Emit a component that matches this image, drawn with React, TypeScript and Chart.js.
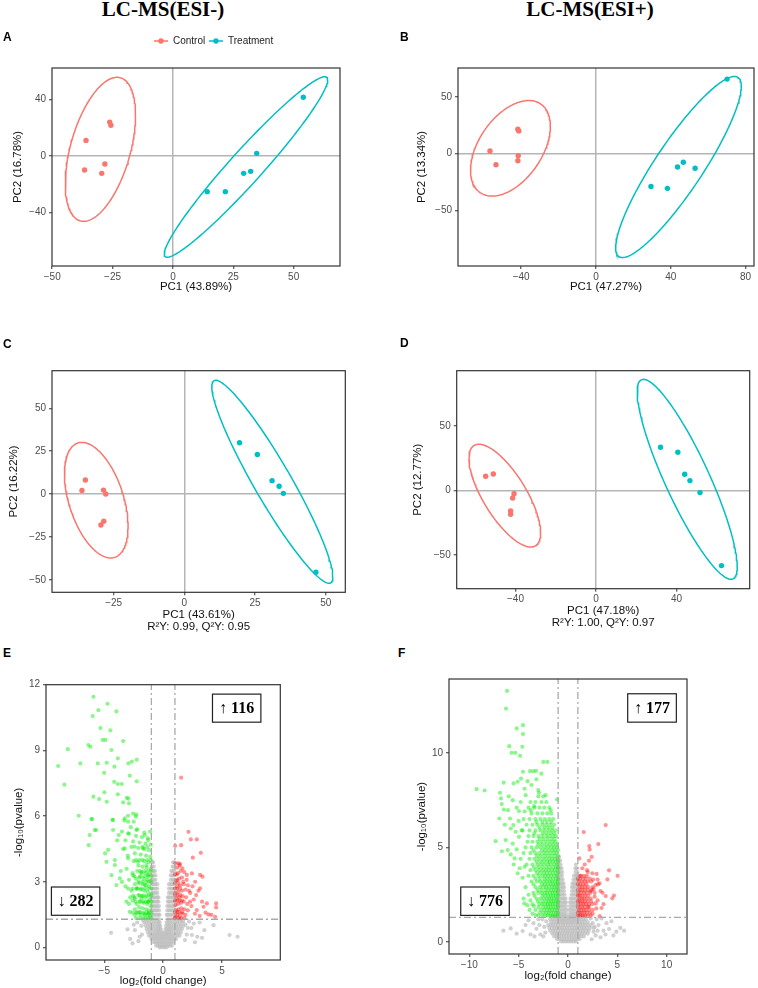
import React, { useEffect, useRef } from 'react';
import { Chart, registerables } from 'chart.js';

Chart.register(...registerables);

type Pt = [number, number];
type Row = [number, number[]]; // [y, list of x values at about that y]

// ---------- shared values ----------
const GROUPS = ['Control', 'Treatment'];
const FC_CUT = 1;
const P_CUT = 1.3;

// ---------- Panel A : PCA, LC-MS(ESI-) ----------
const A_CONTROL: Pt[] = [[-26.2, 24.1], [-25.7, 21.8], [-36.0, 11.1], [-36.6, -9.9], [-28.2, -5.7], [-29.5, -12.3]];
const A_TREAT: Pt[] = [[54.0, 41.7], [34.7, 1.9], [32.2, -10.9], [29.3, -12.3], [14.2, -25.3], [21.7, -25.3]];
// ellipse: [centre x, centre y, x half-range, y half-range, phase]
const A_ELL_CONTROL = [-30.05, 4.75, 14.55, 51.15, 1.075];
const A_ELL_TREAT = [30.25, -7.8, 33.85, 64.1, 0.27];
const A_XTICKS = [-50, -25, 0, 25, 50];
const A_YTICKS = [-40, 0, 40];

// ---------- Panel B : PCA, LC-MS(ESI+) ----------
const B_CONTROL: Pt[] = [[-56.7, 2.4], [-53.5, -9.7], [-41.8, 21.6], [-41.3, 20.1], [-41.6, -1.8], [-41.8, -6.2]];
const B_TREAT: Pt[] = [[70.1, 65.8], [29.4, -28.9], [38.2, -30.6], [43.6, -11.8], [46.7, -7.6], [53.0, -12.9]];
const B_ELL_CONTROL = [-45.75, 4.75, 21.35, 42.15, 1.093];
const B_ELL_TREAT = [44.1, -11.8, 33.6, 79.9, 0.47];
const B_XTICKS = [-40, 0, 40, 80];
const B_YTICKS = [-50, 0, 50];

// ---------- Panel C : OPLS-DA, ESI- ----------
const C_CONTROL: Pt[] = [[-35.0, 8.2], [-36.2, 2.1], [-28.6, 2.3], [-27.8, 0.0], [-28.5, -15.9], [-29.5, -18.1]];
const C_TREAT: Pt[] = [[19.5, 29.9], [25.8, 23.1], [31.0, 7.8], [33.5, 4.5], [35.0, 0.4], [46.5, -45.6]];
const C_ELL_CONTROL = [-31.15, -3.6, 11.25, 33.7, 2.04];
const C_ELL_TREAT = [31.1, 7.15, 21.4, 59.15, 2.78];
const C_XTICKS = [-25, 0, 25, 50];
const C_YTICKS = [-50, -25, 0, 25, 50];

// ---------- Panel D : OPLS-DA, ESI+ ----------
const D_CONTROL: Pt[] = [[-54.8, 10.9], [-51.0, 12.6], [-40.7, -2.6], [-41.4, -6.0], [-42.4, -16.0], [-42.4, -18.6]];
const D_TREAT: Pt[] = [[32.1, 33.3], [40.7, 29.5], [44.1, 12.4], [46.7, 7.5], [51.7, -1.8], [62.4, -58.4]];
const D_ELL_CONTROL = [-45.3, -4.15, 17.8, 39.85, 2.38];
const D_ELL_TREAT = [45.35, 8.5, 24.85, 77.5, 2.634];
const D_XTICKS = [-40, 0, 40];
const D_YTICKS = [-50, 0, 50];

// ---------- Panel E : volcano, ESI- ----------
const E_UP_COUNT = 116;
const E_DOWN_COUNT = 282;
const E_XTICKS = [-5, 0, 5];
const E_YTICKS = [0, 3, 6, 9, 12];
const E_DOWN: Pt[] = [
  [-5.92, 11.45], [-4.73, 11.13], [-5.5, 10.84], [-3.97, 10.78], [-5.98, 10.57], [-5.33, 10.02], [-4.48, 9.92],
  [-5.13, 9.48], [-4.9, 9.48], [-3.4, 9.43], [-8.1, 9.06], [-6.35, 9.25], [-6.18, 9.17], [-4.39, 9.02],
  [-3.85, 8.64], [-2.24, 8.58], [-2.95, 8.41], [-2.66, 8.49], [-7.03, 8.41], [-5.55, 8.41], [-4.79, 8.44],
  [-4.14, 8.26], [-8.92, 8.29], [-5.01, 7.98], [-2.83, 7.85], [-4.16, 7.57], [-3.85, 7.47], [-3.51, 7.47],
  [-2.24, 7.59], [-8.39, 7.44], [-5.92, 6.89], [-5.44, 6.78], [-4.79, 6.66], [-4.99, 7.09], [-3.85, 7.0],
  [-3.09, 6.84], [-2.95, 6.8], [-3.4, 6.63], [-2.9, 6.59], [-7.17, 6.02], [-6.03, 5.87], [-4.31, 5.83],
  [-2.98, 6.02], [-2.55, 6.12], [-2.27, 6.07], [-5.69, 5.37], [-6.32, 4.68], [-4.93, 4.3], [-6.09, 5.87],
  [-4.25, 5.83], [-3.26, 5.9], [-2.98, 5.75], [-2.33, 5.98], [-5.81, 5.37], [-6.24, 5.14], [-4.25, 5.37],
  [-3.77, 5.14], [-2.98, 5.22], [-2.27, 5.37], [-1.56, 5.14], [-1.28, 4.91], [-4.67, 4.46], [-3.26, 4.53],
  [-2.41, 4.61], [-1.7, 4.53], [-4.81, 3.92], [-4.1, 3.77], [-2.98, 4.08], [-2.13, 3.92], [-1.42, 3.77],
  [-4.39, 3.31], [-3.68, 3.16], [-2.55, 3.31], [-1.84, 3.39], [-1.28, 3.31], [-3.97, 2.86], [-2.98, 2.7],
  [-2.27, 2.7], [-1.56, 2.86], [-3.12, 2.1], [-2.41, 2.25], [-1.84, 2.25], [-1.28, 2.1], [-2.84, 1.64],
  [-1.99, 1.64], [-1.28, 1.56], [-1.56, 1.49],
  [-1.1, 1.45], [-1.3, 1.5], [-1.6, 1.55], [-1.9, 1.5], [-2.2, 1.6], [-1.2, 1.7], [-1.45, 1.75], [-1.75, 1.8],
  [-2.05, 1.85], [-2.4, 1.75], [-1.05, 1.9], [-1.35, 2.0], [-1.65, 2.05], [-1.95, 2.1], [-2.25, 2.0],
  [-2.6, 2.15], [-1.15, 2.2], [-1.5, 2.3], [-1.8, 2.35], [-2.1, 2.4], [-2.45, 2.3], [-1.05, 2.45], [-1.3, 2.55],
  [-1.6, 2.6], [-1.9, 2.65], [-2.25, 2.7], [-2.7, 2.6], [-1.2, 2.8], [-1.45, 2.85], [-1.75, 2.9], [-2.05, 2.95],
  [-2.4, 2.9], [-1.1, 3.05], [-1.35, 3.1], [-1.65, 3.15], [-2.0, 3.2], [-2.3, 3.15], [-2.9, 3.1], [-1.2, 3.35],
  [-1.5, 3.4], [-1.85, 3.45], [-2.2, 3.5], [-2.6, 3.4], [-1.05, 3.6], [-1.4, 3.65], [-1.75, 3.7], [-2.1, 3.75],
  [-3.1, 3.6], [-1.25, 3.9], [-1.6, 3.95], [-2.0, 4.0], [-2.5, 3.95], [-1.1, 4.15], [-1.45, 4.2], [-1.9, 4.25],
  [-2.4, 4.3], [-3.0, 4.2], [-1.2, 4.45], [-1.6, 4.5], [-2.1, 4.55], [-2.7, 4.6], [-3.4, 4.5], [-1.05, 4.7],
  [-1.5, 4.75], [-2.0, 4.8], [-2.55, 4.85], [-3.2, 4.9], [-1.3, 5.0], [-1.8, 5.05], [-2.3, 5.1], [-2.9, 5.2],
  [-1.1, 5.3], [-1.6, 5.25], [-2.2, 5.4], [-2.75, 5.5], [-3.5, 5.3], [-3.3, 5.8], [-2.5, 5.75], [-3.9, 4.9],
  [-4.1, 4.0], [-3.6, 3.5], [-3.2, 2.8], [-2.8, 2.3], [-3.5, 3.0], [-2.9, 2.0], [-2.6, 1.6], [-2.4, 1.5],
];
const E_DOWN_ROWS: Row[] = [
  [1.35, [-1.0, -1.25, -1.5, -1.75, -2.0, -2.3]],
  [1.6, [-1.0, -1.2, -1.4, -1.7, -2.0, -2.3]],
  [2.1, [-1.0, -1.25, -1.45, -1.7, -2.0, -2.35]],
  [2.38, [-1.0, -1.2, -1.4, -1.7, -2.0, -2.55]],
  [2.7, [-1.0, -1.25, -1.55, -1.85, -2.15, -2.6]],
  [3.0, [-1.0, -1.2, -1.45, -1.75, -2.1]],
  [3.25, [-1.0, -1.3, -1.6, -1.95, -2.45]],
  [3.5, [-1.05, -1.3, -1.6, -1.95]],
  [4.0, [-1.05, -1.35, -1.75, -2.3]],
  [4.6, [-1.35, -1.75]],
];
const E_UP: Pt[] = [
  [1.53, 7.76], [2.15, 5.29], [2.35, 4.94], [2.86, 4.94], [1.53, 4.68], [1.02, 4.65], [3.2, 4.33], [2.52, 4.11],
  [1.44, 3.82], [1.64, 3.62], [2.01, 3.32], [3.14, 3.32], [3.34, 3.24], [2.44, 3.39], [2.72, 3.01], [1.19, 3.09],
  [3.14, 2.71], [3.71, 2.02], [4.5, 2.02], [4.5, 1.84], [3.43, 1.87], [3.85, 1.52], [4.42, 1.41], [2.86, 1.72],
  [2.29, 2.1],
  [1.05, 1.4], [1.2, 1.5], [1.4, 1.45], [1.65, 1.55], [1.9, 1.5], [1.1, 1.7], [1.3, 1.75], [1.55, 1.8],
  [1.8, 1.75], [2.1, 1.7], [1.05, 1.95], [1.25, 2.0], [1.5, 2.05], [1.75, 2.1], [2.05, 2.0], [2.4, 1.9],
  [1.15, 2.25], [1.4, 2.3], [1.65, 2.35], [1.95, 2.3], [2.6, 2.2], [1.05, 2.5], [1.3, 2.55], [1.6, 2.6],
  [1.9, 2.65], [2.3, 2.5], [2.8, 2.4], [1.2, 2.8], [1.45, 2.85], [1.75, 2.9], [2.1, 2.85], [2.5, 2.8],
  [1.1, 3.05], [1.35, 3.15], [1.6, 3.2], [2.0, 3.1], [1.25, 3.4], [1.5, 3.5], [1.8, 3.45], [1.4, 3.75],
  [1.2, 3.65], [3.0, 2.6], [3.3, 2.1], [3.6, 1.6], [2.7, 1.55], [3.1, 1.45], [4.1, 1.5], [2.2, 2.6], [1.7, 3.0],
];
const E_UP_ROWS: Row[] = [
  [1.35, [1.0, 1.3, 1.55, 1.8]],
  [1.62, [1.0, 1.2, 1.4, 1.6]],
  [2.15, [1.0, 1.2, 1.4, 1.6]],
  [2.4, [1.0, 1.2, 1.45]],
  [2.7, [1.0, 1.2, 1.45]],
  [2.95, [1.0, 1.3]],
  [3.35, [1.0, 1.15]],
  [3.85, [1.05, 1.3]],
];
const E_NS_ROWS: Row[] = [
  [3.9, [-0.95, -0.85, 0.95, 0.85]],
  [3.7, [-0.95, -0.8, 0.95, 0.8]],
  [3.5, [-0.95, -0.8, -0.7, 0.95, 0.8, 0.7]],
  [3.3, [-0.95, -0.8, -0.65, 0.95, 0.8, 0.65]],
  [3.1, [-0.95, -0.8, -0.65, 0.95, 0.8, 0.65]],
  [2.9, [-0.95, -0.8, -0.65, -0.5, 0.95, 0.8, 0.65, 0.5]],
  [2.7, [-0.95, -0.8, -0.65, -0.5, 0.95, 0.8, 0.65, 0.5]],
  [2.5, [-0.95, -0.8, -0.65, -0.5, 0.95, 0.8, 0.65, 0.5]],
  [2.3, [-0.95, -0.8, -0.65, -0.5, -0.4, 0.95, 0.8, 0.65, 0.5, 0.4]],
  [2.1, [-0.95, -0.8, -0.65, -0.5, -0.4, 0.95, 0.8, 0.65, 0.5, 0.4]],
  [1.9, [-0.95, -0.8, -0.65, -0.5, -0.35, 0.95, 0.8, 0.65, 0.5, 0.35]],
  [1.7, [-0.95, -0.8, -0.65, -0.5, -0.35, 0.95, 0.8, 0.65, 0.5, 0.35]],
  [1.5, [-1.0, -0.85, -0.7, -0.55, -0.4, -0.3, 1.0, 0.85, 0.7, 0.55, 0.4, 0.3]],
  [1.3, [-1.5, -1.3, -1.1, -0.9, -0.7, -0.5, -0.35, 0.35, 0.5, 0.7, 0.9, 1.1, 1.3, 1.5]],
  [1.15, [-1.6, -1.4, -1.2, -1.0, -0.8, -0.6, -0.4, -0.3, 0.3, 0.45, 0.6, 0.8, 1.0, 1.2, 1.4, 1.6]],
  [1.0, [-1.5, -1.3, -1.1, -0.9, -0.7, -0.5, -0.35, -0.25, 0.25, 0.4, 0.55, 0.7, 0.9, 1.1, 1.3, 1.5, 1.7]],
  [0.85, [-1.4, -1.2, -1.0, -0.8, -0.6, -0.45, -0.3, -0.2, 0.2, 0.35, 0.5, 0.65, 0.8, 1.0, 1.2, 1.4, 1.6]],
  [0.7, [-1.3, -1.1, -0.9, -0.7, -0.55, -0.4, -0.25, -0.1, 0.1, 0.25, 0.4, 0.55, 0.7, 0.9, 1.1, 1.3, 1.5]],
  [0.55, [-1.2, -1.0, -0.85, -0.7, -0.55, -0.4, -0.25, -0.1, 0.05, 0.2, 0.35, 0.5, 0.65, 0.8, 1.0, 1.2, 1.4]],
  [0.4, [-1.0, -0.85, -0.7, -0.55, -0.4, -0.25, -0.1, 0.05, 0.2, 0.35, 0.5, 0.65, 0.8, 0.95, 1.1]],
  [0.25, [-0.8, -0.65, -0.5, -0.35, -0.2, -0.05, 0.1, 0.25, 0.4, 0.55, 0.7, 0.85]],
  [0.1, [-0.6, -0.45, -0.3, -0.15, 0, 0.15, 0.3, 0.45, 0.6, 0.75]],
  [0.02, [-0.3, -0.1, 0.1, 0.3]],
];
const E_NS: Pt[] = [
  [-2.0, 0.5], [2.0, 0.6], [-2.4, 0.8], [2.4, 0.9], [-2.8, 0.4], [2.9, 0.5], [-3.03, 0.84], [-4.42, 0.68],
  [2.44, 0.58], [3.5, 0.8], [4.28, 1.03], [5.64, 0.58], [6.32, 0.5], [-2.2, 1.15], [2.2, 1.2], [-1.85, 1.0],
  [1.9, 1.05], [3.1, 1.15], [-2.6, 0.2], [2.7, 0.25], [-1.8, 0.6], [1.85, 0.35], [2.1, 0.9], [-2.1, 0.3],
  [1.7, 1.2], [-1.7, 1.25], [2.6, 1.1], [-2.5, 1.05], [3.3, 0.45],
];

// ---------- Panel F : volcano, ESI+ ----------
const F_UP_COUNT = 177;
const F_DOWN_COUNT = 776;
const F_XTICKS = [-10, -5, 0, 5, 10];
const F_YTICKS = [0, 5, 10];
const F_DOWN: Pt[] = [
  [-6.18, 13.27], [-6.28, 12.34], [-4.56, 11.46], [-5.2, 11.29], [-4.56, 10.99], [-5.95, 10.35], [-4.63, 10.32],
  [-5.71, 10.0], [-5.34, 10.0], [-4.86, 9.84], [-2.5, 9.52], [-2.09, 9.52], [-3.85, 9.03], [-3.51, 9.03],
  [-3.24, 9.05], [-4.56, 9.0], [-9.26, 8.08], [-8.45, 8.01], [-6.52, 8.42], [-5.51, 8.38], [-5.1, 8.47],
  [-4.76, 8.64], [-6.89, 7.89], [-3.01, 8.03], [-2.94, 7.89], [-2.26, 7.76], [-1.11, 7.54], [-4.29, 7.76],
  [-6.79, 7.59], [-6.72, 7.29], [-6.08, 6.97], [-4.97, 6.92], [-3.78, 6.97], [-3.45, 7.18], [-1.76, 6.97],
  [-6.96, 6.53], [-5.88, 6.53], [-5.54, 6.18], [-5.3, 5.83], [-6.32, 5.39], [-7.33, 5.33], [-4.97, 5.56],
  [-6.11, 4.86], [-5.81, 4.63], [-5.41, 4.42], [-5.1, 3.63], [-4.39, 3.98], [-4.43, 2.04], [-4.12, 1.95],
  [-3.45, 1.9], [-3.28, 1.43],
  [-6.5, 7.0], [-6.0, 7.7], [-5.6, 7.5], [-5.2, 7.1], [-4.8, 7.4], [-4.4, 8.1], [-4.1, 8.5], [-3.7, 8.3],
  [-3.2, 8.6], [-2.7, 8.9], [-5.8, 6.0], [-5.0, 6.4], [-4.7, 5.9], [-4.4, 6.9], [-6.4, 6.2], [-5.6, 5.2],
  [-5.2, 4.9], [-4.8, 4.4], [-4.6, 3.4], [-4.3, 2.9], [-4.0, 2.5], [-3.8, 2.2], [-4.9, 3.9], [-5.5, 4.1],
  [-6.7, 4.8], [-3.9, 1.7], [-4.5, 2.3], [-3.6, 1.5],
];
const F_DOWN_ROWS: Row[] = [
  [1.4, [-1.05, -1.3, -1.55, -1.8, -2.05, -2.3, -2.6, -3.0]],
  [1.55, [-1.0, -1.2, -1.45, -1.7, -1.95, -2.2, -2.5, -2.85]],
  [1.7, [-1.1, -1.35, -1.6, -1.85, -2.1, -2.4, -2.75, -3.3]],
  [1.85, [-1.0, -1.25, -1.5, -1.75, -2.0, -2.25, -2.55, -3.0]],
  [2.0, [-1.05, -1.3, -1.55, -1.8, -2.05, -2.3, -2.6, -2.9, -3.6]],
  [2.15, [-1.0, -1.2, -1.45, -1.7, -1.95, -2.25, -2.6, -3.05]],
  [2.3, [-1.15, -1.4, -1.65, -1.9, -2.15, -2.45, -2.8, -3.2]],
  [2.45, [-1.0, -1.25, -1.5, -1.75, -2.0, -2.3, -2.6, -3.4]],
  [2.6, [-1.05, -1.3, -1.55, -1.8, -2.1, -2.35, -2.65, -3.0, -3.5]],
  [2.75, [-1.0, -1.2, -1.45, -1.7, -2.0, -2.3, -2.7, -3.1]],
  [2.9, [-1.1, -1.35, -1.6, -1.9, -2.2, -2.5, -2.85, -3.3]],
  [3.05, [-1.0, -1.25, -1.5, -1.75, -2.05, -2.35, -2.65, -3.5]],
  [3.2, [-1.05, -1.3, -1.6, -1.85, -2.15, -2.45, -2.8, -3.15, -3.7]],
  [3.35, [-1.0, -1.2, -1.5, -1.8, -2.1, -2.4, -2.85, -3.3]],
  [3.5, [-1.15, -1.4, -1.7, -2.0, -2.3, -2.6, -3.0, -3.5, -4.0]],
  [3.65, [-1.0, -1.25, -1.55, -1.85, -2.15, -2.45, -2.8, -3.15]],
  [3.8, [-1.05, -1.35, -1.65, -1.95, -2.25, -2.55, -2.9, -3.3, -3.8]],
  [3.95, [-1.0, -1.2, -1.5, -1.85, -2.2, -2.6, -3.0, -3.45]],
  [4.1, [-1.1, -1.4, -1.75, -2.05, -2.4, -2.75, -3.1, -3.6, -4.2]],
  [4.25, [-1.0, -1.25, -1.55, -1.85, -2.1, -2.45, -2.8, -3.2]],
  [4.4, [-1.05, -1.3, -1.6, -1.9, -2.25, -2.6, -3.0, -3.4, -3.9]],
  [4.55, [-1.0, -1.3, -1.65, -2.0, -2.35, -2.75, -3.15]],
  [4.7, [-1.15, -1.45, -1.8, -2.15, -2.5, -2.9, -3.3, -3.8, -4.5]],
  [4.85, [-1.0, -1.3, -1.6, -1.95, -2.3, -2.65, -3.5]],
  [5.0, [-1.1, -1.4, -1.7, -2.05, -2.4, -2.8, -3.2, -3.7, -4.3]],
  [5.15, [-1.15, -1.5, -1.85, -2.2, -2.6, -3.0]],
  [5.3, [-1.25, -1.55, -1.9, -2.3, -2.7, -3.1, -3.6, -4.1]],
  [5.45, [-1.35, -1.7, -2.1, -2.5, -2.9]],
  [5.6, [-1.2, -1.5, -1.85, -2.2, -2.6, -3.0, -3.5, -4.0]],
  [5.75, [-1.4, -1.75, -2.15, -2.55, -3.4]],
  [5.9, [-1.3, -1.65, -2.0, -2.4, -2.8, -3.3, -3.9, -4.6]],
  [6.05, [-1.6, -2.0, -2.4, -2.9]],
  [6.2, [-1.4, -1.8, -2.2, -2.6, -3.1, -3.6, -4.2]],
  [6.35, [-1.7, -2.15, -2.6, -3.2]],
  [6.5, [-1.5, -1.9, -2.35, -2.8, -3.3, -3.9, -4.5]],
  [6.8, [-1.7, -2.1, -2.6, -3.1, -3.7]],
  [7.1, [-1.9, -2.4, -2.9, -3.4, -4.0]],
  [7.4, [-2.2, -2.7, -3.3, -3.8]],
  [7.7, [-2.5, -3.0]],
];
const F_UP: Pt[] = [
  [3.82, 6.18], [1.59, 5.81], [3.07, 5.18], [2.16, 5.07], [2.2, 4.89], [1.15, 4.42], [2.13, 4.3], [1.93, 3.8],
  [4.16, 3.79], [5.03, 3.5], [2.47, 3.63], [1.22, 3.5], [3.04, 3.06], [2.8, 3.01], [3.99, 3.31], [4.66, 2.46],
  [4.49, 2.31], [3.82, 2.43], [2.8, 2.04], [2.13, 1.87], [3.21, 1.37], [2.87, 1.78],
  [2.9, 3.6], [3.0, 3.3], [3.3, 2.7], [2.6, 2.8], [3.0, 2.2], [3.5, 2.6], [3.6, 2.0], [2.5, 1.5], [2.7, 2.4],
  [3.4, 1.8], [2.3, 2.7], [2.55, 3.3], [3.2, 3.1], [2.0, 3.7], [1.7, 4.1], [2.4, 4.5], [1.45, 3.9],
];
const F_UP_ROWS: Row[] = [
  [1.4, [1.05, 1.25, 1.5, 1.75, 2.0, 2.3]],
  [1.55, [1.0, 1.2, 1.4, 1.65, 1.9, 2.2]],
  [1.7, [1.1, 1.35, 1.6, 1.85, 2.15, 2.5]],
  [1.85, [1.0, 1.2, 1.45, 1.7, 2.0]],
  [2.0, [1.05, 1.3, 1.55, 1.8, 2.1, 2.45]],
  [2.15, [1.0, 1.2, 1.45, 1.7, 2.0, 2.35]],
  [2.3, [1.15, 1.4, 1.65, 1.95, 2.3]],
  [2.45, [1.0, 1.2, 1.45, 1.75, 2.05]],
  [2.6, [1.05, 1.3, 1.6, 1.9, 2.25, 2.7]],
  [2.75, [1.0, 1.2, 1.45, 1.7, 2.0, 2.4]],
  [2.9, [1.2, 1.45, 1.75, 2.05, 2.5]],
  [3.05, [1.0, 1.25, 1.55, 1.85]],
  [3.2, [1.1, 1.4, 1.7, 2.0, 2.35]],
  [3.35, [1.0, 1.2, 1.5, 1.8, 2.2]],
  [3.5, [1.3, 1.6, 1.9]],
];
const F_NS_ROWS: Row[] = [
  [4.5, [-0.9]],
  [4.3, [-0.95, -0.8]],
  [4.1, [-0.95, -0.75, 0.8]],
  [3.9, [-1.0, -0.8, -0.65, 0.9, 0.75]],
  [3.7, [-0.95, -0.75, -0.6, 0.95, 0.75]],
  [3.5, [-1.0, -0.8, -0.6, 0.95, 0.8, 0.6]],
  [3.3, [-0.95, -0.75, -0.55, 0.95, 0.75, 0.55]],
  [3.1, [-1.0, -0.8, -0.6, -0.45, 0.95, 0.8, 0.6, 0.45]],
  [2.9, [-0.95, -0.75, -0.55, -0.4, 0.95, 0.75, 0.55, 0.4]],
  [2.7, [-1.0, -0.8, -0.6, -0.4, 0.95, 0.8, 0.6, 0.4]],
  [2.5, [-0.95, -0.75, -0.55, -0.35, 0.95, 0.75, 0.55, 0.35]],
  [2.3, [-1.0, -0.8, -0.6, -0.4, -0.25, 0.95, 0.8, 0.6, 0.4, 0.25]],
  [2.1, [-0.95, -0.75, -0.55, -0.35, -0.2, 0.95, 0.75, 0.55, 0.35, 0.2]],
  [1.9, [-1.0, -0.8, -0.6, -0.4, -0.2, 0.95, 0.8, 0.6, 0.4, 0.2]],
  [1.7, [-0.95, -0.75, -0.55, -0.35, -0.15, 0.95, 0.75, 0.55, 0.35, 0.15]],
  [1.5, [-1.0, -0.8, -0.6, -0.4, -0.2, 0.95, 0.8, 0.6, 0.4, 0.2]],
  [1.35, [-1.6, -1.35, -1.1, -0.9, -0.7, -0.5, -0.3, -0.1, 0.1, 0.3, 0.5, 0.7, 0.9, 1.1, 1.35, 1.6]],
  [1.2, [-1.8, -1.55, -1.3, -1.05, -0.8, -0.6, -0.4, -0.2, 0, 0.2, 0.4, 0.6, 0.8, 1.05, 1.3, 1.55, 1.8]],
  [1.05, [-1.7, -1.45, -1.2, -0.95, -0.7, -0.5, -0.3, -0.1, 0.1, 0.3, 0.5, 0.7, 0.95, 1.2, 1.45, 1.7, 2.0]],
  [0.9, [-2.0, -1.75, -1.5, -1.25, -1.0, -0.75, -0.5, -0.25, 0, 0.25, 0.5, 0.75, 1.0, 1.25, 1.5, 1.75, 2.0, 2.3]],
  [0.75, [-1.9, -1.6, -1.35, -1.1, -0.85, -0.6, -0.35, -0.1, 0.15, 0.4, 0.65, 0.9, 1.15, 1.4, 1.65, 1.9, 2.2, 2.6]],
  [0.6, [-1.8, -1.5, -1.25, -1.0, -0.75, -0.5, -0.25, 0, 0.25, 0.5, 0.75, 1.0, 1.25, 1.5, 1.8, 2.1]],
  [0.45, [-1.6, -1.35, -1.1, -0.85, -0.6, -0.35, -0.1, 0.15, 0.4, 0.65, 0.9, 1.15, 1.4, 1.7, 2.0]],
  [0.3, [-1.4, -1.15, -0.9, -0.65, -0.4, -0.15, 0.1, 0.35, 0.6, 0.85, 1.1, 1.35, 1.6]],
  [0.15, [-1.1, -0.85, -0.6, -0.35, -0.1, 0.15, 0.4, 0.65, 0.9, 1.15]],
  [0.03, [-0.7, -0.45, -0.2, 0.05, 0.3, 0.55, 0.8]],
];
const F_NS: Pt[] = [
  [-3.2, 0.7], [3.1, 0.9], [-3.5, 1.0], [3.6, 0.6], [-4.6, 0.58], [-5.81, 0.72], [-6.55, 0.6], [4.16, 0.69],
  [4.9, 0.55], [5.68, 0.6], [5.3, 0.75], [4.4, 1.1], [-4.0, 1.15], [2.9, 1.2], [-2.6, 1.2], [3.4, 1.25],
  [-2.4, 0.8], [2.5, 1.0], [-2.8, 0.4], [2.8, 0.35], [-2.2, 1.1], [3.0, 0.6], [-3.0, 1.2], [2.3, 1.25],
  [-2.5, 0.3], [2.4, 0.15], [-3.8, 0.4], [-3.4, 0.3], [3.8, 0.4], [3.3, 0.25], [-2.9, 0.9], [2.7, 0.8],
  [-2.3, 0.5], [2.6, 0.55], [4.6, 0.35], [-5.2, 0.45], [-4.3, 0.9], [3.9, 1.0],
];

// ---------- styling ----------
const RED = '#F8766D';
const TEAL = '#00BFC4';
const SANS = "'Liberation Sans', Arial, Helvetica, sans-serif";
const SERIF = "'Liberation Serif', 'Times New Roman', serif";

const toXY = (a: Pt[]) => a.map(([x, y]) => ({ x, y }));
const rowsToPts = (rows: Row[]): Pt[] => rows.flatMap(([y, xs]) => xs.map((x) => [x, y] as Pt));

function ellipsePath(p: number[]) {
  const [cx, cy, rx, ry, phi] = p;
  const out: { x: number; y: number }[] = [];
  const n = 160;
  for (let i = 0; i <= n; i++) {
    const t = (i / n) * 2 * Math.PI;
    out.push({ x: cx + rx * Math.cos(t), y: cy + ry * Math.cos(t - phi) });
  }
  return out;
}

function fmtTick(v: any) {
  const n = Number(v);
  return n < 0 ? '\u2212' + Math.abs(n) : String(n);
}

interface Box { x0: number; x1: number; y0: number; y1: number; text: string }
interface Spec {
  left: number; top: number; width: number; height: number;
  yAxisW: number; xAxisH: number; padTop: number; padRight: number;
  xMin: number; xMax: number; yMin: number; yMax: number;
  xTicks: number[]; yTicks: number[];
  xTitle: string | string[]; yTitle: string;
  xTitlePad: number; yTitlePad: number;
  zeroLines: boolean;
  datasets: any[];
  boxes?: Box[];
  legend?: boolean;
}

function pcaDatasets(ctrl: Pt[], treat: Pt[], ellC: number[], ellT: number[]) {
  const pts = (d: Pt[], c: string, label: string) => ({
    label, data: toXY(d), backgroundColor: c, borderColor: c, pointRadius: 2.7, pointBorderWidth: 0, showLine: false,
  });
  const ell = (p: number[], c: string, label: string) => ({
    label, data: ellipsePath(p), showLine: true, borderColor: c, borderWidth: 1.5, pointRadius: 0, fill: false, tension: 0,
  });
  return [
    pts(ctrl, RED, GROUPS[0]),
    pts(treat, TEAL, GROUPS[1]),
    ell(ellC, RED, GROUPS[0] + ' ellipse'),
    ell(ellT, TEAL, GROUPS[1] + ' ellipse'),
  ];
}

function volcanoDatasets(down: Pt[], up: Pt[], ns: Pt[], xMin: number, xMax: number, yMin: number, yMax: number) {
  const cut = (d: { x: number; y: number }[]) => ({
    data: d, showLine: true, borderColor: '#aaaaaa', borderWidth: 1.3, borderDash: [7, 3, 2, 3], pointRadius: 0, fill: false,
  });
  const pts = (d: Pt[], c: string, label: string) => ({
    label, data: toXY(d), backgroundColor: c, pointRadius: 2.1, pointBorderWidth: 0, showLine: false,
  });
  return [
    cut([{ x: -FC_CUT, y: yMin }, { x: -FC_CUT, y: yMax }]),
    cut([{ x: FC_CUT, y: yMin }, { x: FC_CUT, y: yMax }]),
    cut([{ x: xMin, y: P_CUT }, { x: xMax, y: P_CUT }]),
    pts(down, 'rgba(0,235,0,0.45)', 'down'),
    pts(up, 'rgba(255,0,0,0.42)', 'up'),
    pts(ns, 'rgba(190,190,190,0.7)', 'ns'),
  ];
}

const framePlugin = {
  id: 'frame',
  afterDraw(chart: any) {
    const { ctx, chartArea: a } = chart;
    ctx.save();
    ctx.strokeStyle = '#333333';
    ctx.lineWidth = 1.2;
    ctx.strokeRect(a.left, a.top, a.right - a.left, a.bottom - a.top);
    ctx.restore();
  },
};

function boxPlugin(boxes: Box[]) {
  return {
    id: 'countBoxes',
    afterDraw(chart: any) {
      const { ctx } = chart;
      const xs = chart.scales.x;
      const ys = chart.scales.y;
      boxes.forEach((b) => {
        const l = xs.getPixelForValue(b.x0);
        const r = xs.getPixelForValue(b.x1);
        const t = ys.getPixelForValue(b.y1);
        const bt = ys.getPixelForValue(b.y0);
        ctx.save();
        ctx.fillStyle = '#ffffff';
        ctx.fillRect(l, t, r - l, bt - t);
        ctx.strokeStyle = '#222222';
        ctx.lineWidth = 1.2;
        ctx.strokeRect(l, t, r - l, bt - t);
        ctx.fillStyle = '#000000';
        ctx.font = `bold 16px ${SERIF}`;
        ctx.textAlign = 'center';
        ctx.textBaseline = 'middle';
        ctx.fillText(b.text, (l + r) / 2, (t + bt) / 2 + 1);
        ctx.restore();
      });
    },
  };
}

const legendPlugin = {
  id: 'groupLegend',
  afterDraw(chart: any) {
    const { ctx } = chart;
    const items = [
      { label: GROUPS[0], color: RED, x: 154 },
      { label: GROUPS[1], color: TEAL, x: 209 },
    ];
    const y = 11;
    ctx.save();
    items.forEach((it) => {
      ctx.strokeStyle = it.color;
      ctx.lineWidth = 1.5;
      ctx.beginPath();
      ctx.moveTo(it.x, y);
      ctx.lineTo(it.x + 14, y);
      ctx.stroke();
      ctx.fillStyle = it.color;
      ctx.beginPath();
      ctx.arc(it.x + 7, y, 2.7, 0, Math.PI * 2);
      ctx.fill();
      ctx.fillStyle = '#222222';
      ctx.font = `10px ${SANS}`;
      ctx.textAlign = 'left';
      ctx.textBaseline = 'middle';
      ctx.fillText(it.label, it.x + 19, y + 0.5);
    });
    ctx.restore();
  },
};

function axisCfg(s: Spec, isX: boolean) {
  const tickVals = isX ? s.xTicks : s.yTicks;
  return {
    type: 'linear',
    position: isX ? 'bottom' : 'left',
    min: isX ? s.xMin : s.yMin,
    max: isX ? s.xMax : s.yMax,
    afterFit: (sc: any) => {
      if (isX) sc.height = s.xAxisH;
      else sc.width = s.yAxisW;
    },
    afterBuildTicks: (sc: any) => {
      sc.ticks = tickVals.map((v) => ({ value: v }));
    },
    grid: {
      drawOnChartArea: s.zeroLines,
      drawTicks: true,
      tickLength: 3,
      tickWidth: 1,
      tickColor: '#333333',
      lineWidth: 1.5,
      color: (c: any) => (c.tick && c.tick.value === 0 ? '#b5b5b5' : 'rgba(0,0,0,0)'),
    },
    border: { display: false },
    ticks: {
      color: '#4d4d4d',
      font: { family: SANS, size: 10 },
      padding: isX ? 2 : 3,
      autoSkip: false,
      maxRotation: 0,
      minRotation: 0,
      callback: fmtTick,
    },
    title: {
      display: true,
      text: isX ? s.xTitle : s.yTitle,
      color: '#111111',
      font: { family: SANS, size: 11.5, lineHeight: 1.05 },
      padding: isX ? { top: 0, bottom: s.xTitlePad } : { top: s.yTitlePad, bottom: 0 },
    },
  };
}

function Panel({ spec }: { spec: Spec }) {
  const ref = useRef<HTMLCanvasElement | null>(null);
  useEffect(() => {
    if (!ref.current) return;
    const plugins: any[] = [framePlugin];
    if (spec.boxes) plugins.push(boxPlugin(spec.boxes));
    if (spec.legend) plugins.push(legendPlugin);
    const chart = new Chart(ref.current, {
      type: 'scatter',
      data: { datasets: spec.datasets },
      options: {
        responsive: false,
        maintainAspectRatio: false,
        animation: false,
        devicePixelRatio: 1,
        events: [],
        layout: { padding: { top: spec.padTop, right: spec.padRight, left: 0, bottom: 0 } },
        plugins: { legend: { display: false }, tooltip: { enabled: false } },
        scales: { x: axisCfg(spec, true), y: axisCfg(spec, false) },
      } as any,
      plugins,
    } as any);
    return () => chart.destroy();
  }, []);
  return (
    <canvas
      ref={ref}
      width={spec.width}
      height={spec.height}
      style={{ position: 'absolute', left: spec.left, top: spec.top, width: spec.width, height: spec.height }}
    />
  );
}

const SPEC_A: Spec = {
  left: 0, top: 30, width: 379, height: 268, yAxisW: 52, xAxisH: 32, padTop: 38, padRight: 39,
  xMin: -50.1, xMax: 69.2, yMin: -78.1, yMax: 62.5, xTicks: A_XTICKS, yTicks: A_YTICKS,
  xTitle: 'PC1 (43.89%)', yTitle: 'PC2 (16.78%)', xTitlePad: 5, yTitlePad: 12, zeroLines: true,
  datasets: pcaDatasets(A_CONTROL, A_TREAT, A_ELL_CONTROL, A_ELL_TREAT), legend: true,
};
const SPEC_B: Spec = {
  left: 379, top: 30, width: 379, height: 268, yAxisW: 79, xAxisH: 32, padTop: 38, padRight: 2,
  xMin: -73.8, xMax: 84.5, yMin: -99.1, yMax: 75.6, xTicks: B_XTICKS, yTicks: B_YTICKS,
  xTitle: 'PC1 (47.27%)', yTitle: 'PC2 (13.34%)', xTitlePad: 5, yTitlePad: 37, zeroLines: true,
  datasets: pcaDatasets(B_CONTROL, B_TREAT, B_ELL_CONTROL, B_ELL_TREAT),
};
const SPEC_C: Spec = {
  left: 0, top: 330, width: 379, height: 305, yAxisW: 52, xAxisH: 42.7, padTop: 40.7, padRight: 33.7,
  xMin: -46.8, xMax: 56.9, yMin: -57.3, yMax: 71.9, xTicks: C_XTICKS, yTicks: C_YTICKS,
  xTitle: ['PC1 (43.61%)', 'R\u00B2Y: 0.99, Q\u00B2Y: 0.95'], yTitle: 'PC2 (16.22%)', xTitlePad: 2.3, yTitlePad: 8,
  zeroLines: true, datasets: pcaDatasets(C_CONTROL, C_TREAT, C_ELL_CONTROL, C_ELL_TREAT),
};
const SPEC_D: Spec = {
  left: 379, top: 330, width: 379, height: 305, yAxisW: 77.7, xAxisH: 46.3, padTop: 40.7, padRight: 8.3,
  xMin: -69.2, xMax: 76.4, yMin: -76.3, yMax: 92.7, xTicks: D_XTICKS, yTicks: D_YTICKS,
  xTitle: ['PC1 (47.18%)', 'R\u00B2Y: 1.00, Q\u00B2Y: 0.97'], yTitle: 'PC2 (12.77%)', xTitlePad: 6.3, yTitlePad: 32.5,
  zeroLines: true, datasets: pcaDatasets(D_CONTROL, D_TREAT, D_ELL_CONTROL, D_ELL_TREAT),
};
const SPEC_E: Spec = {
  left: 0, top: 670, width: 379, height: 318, yAxisW: 46, xAxisH: 28, padTop: 14.7, padRight: 98.7,
  xMin: -9.95, xMax: 9.95, yMin: -0.56, yMax: 12.0, xTicks: E_XTICKS, yTicks: E_YTICKS,
  xTitle: 'log\u2082(fold change)', yTitle: '-log\u2081\u2080(pvalue)', xTitlePad: 1, yTitlePad: 13, zeroLines: false,
  datasets: volcanoDatasets(
    E_DOWN.concat(rowsToPts(E_DOWN_ROWS)),
    E_UP.concat(rowsToPts(E_UP_ROWS)),
    E_NS.concat(rowsToPts(E_NS_ROWS)),
    -9.95, 9.95, -0.56, 12.0,
  ),
  boxes: [
    { x0: 4.19, x1: 8.3, y0: 10.29, y1: 11.57, text: '\u2191 ' + E_UP_COUNT },
    { x0: -9.49, x1: -5.38, y0: 1.48, y1: 2.77, text: '\u2193 ' + E_DOWN_COUNT },
  ],
};
const SPEC_F: Spec = {
  left: 379, top: 665, width: 379, height: 323, yAxisW: 70, xAxisH: 34, padTop: 14, padRight: 71,
  xMin: -12.06, xMax: 12.06, yMin: -0.63, yMax: 13.9, xTicks: F_XTICKS, yTicks: F_YTICKS,
  xTitle: 'log\u2082(fold change)', yTitle: '-log\u2081\u2080(pvalue)', xTitlePad: 6, yTitlePad: 37, zeroLines: false,
  datasets: volcanoDatasets(
    F_DOWN.concat(rowsToPts(F_DOWN_ROWS)),
    F_UP.concat(rowsToPts(F_UP_ROWS)),
    F_NS.concat(rowsToPts(F_NS_ROWS)),
    -12.06, 12.06, -0.63, 13.9,
  ),
  boxes: [
    { x0: 6.05, x1: 10.98, y0: 11.62, y1: 13.12, text: '\u2191 ' + F_UP_COUNT },
    { x0: -10.87, x1: -5.95, y0: 1.41, y1: 2.91, text: '\u2193 ' + F_DOWN_COUNT },
  ],
};

const LETTERS = [
  { t: 'A', left: 3, top: 30.8 },
  { t: 'B', left: 400, top: 30.8 },
  { t: 'C', left: 3, top: 338 },
  { t: 'D', left: 400, top: 337 },
  { t: 'E', left: 3, top: 647 },
  { t: 'F', left: 398, top: 647 },
];

export default function App() {
  return (
    <div style={{ position: 'absolute', left: 0, top: 0, width: 758, height: 988, background: '#ffffff', overflow: 'hidden' }}>
      {[SPEC_A, SPEC_B, SPEC_C, SPEC_D, SPEC_E, SPEC_F].map((s, i) => (
        <Panel key={i} spec={s} />
      ))}
      <div style={{ position: 'absolute', left: 163, top: -1, transform: 'translateX(-50%)', font: `bold 21px ${SERIF}`, lineHeight: '21px', whiteSpace: 'nowrap', color: '#000' }}>
        LC-MS(ESI-)
      </div>
      <div style={{ position: 'absolute', left: 590, top: -1, transform: 'translateX(-50%)', font: `bold 21px ${SERIF}`, lineHeight: '21px', whiteSpace: 'nowrap', color: '#000' }}>
        LC-MS(ESI+)
      </div>
      {LETTERS.map((l) => (
        <div key={l.t} style={{ position: 'absolute', left: l.left, top: l.top, font: `bold 12px ${SANS}`, lineHeight: '12px', color: '#000' }}>
          {l.t}
        </div>
      ))}
    </div>
  );
}
